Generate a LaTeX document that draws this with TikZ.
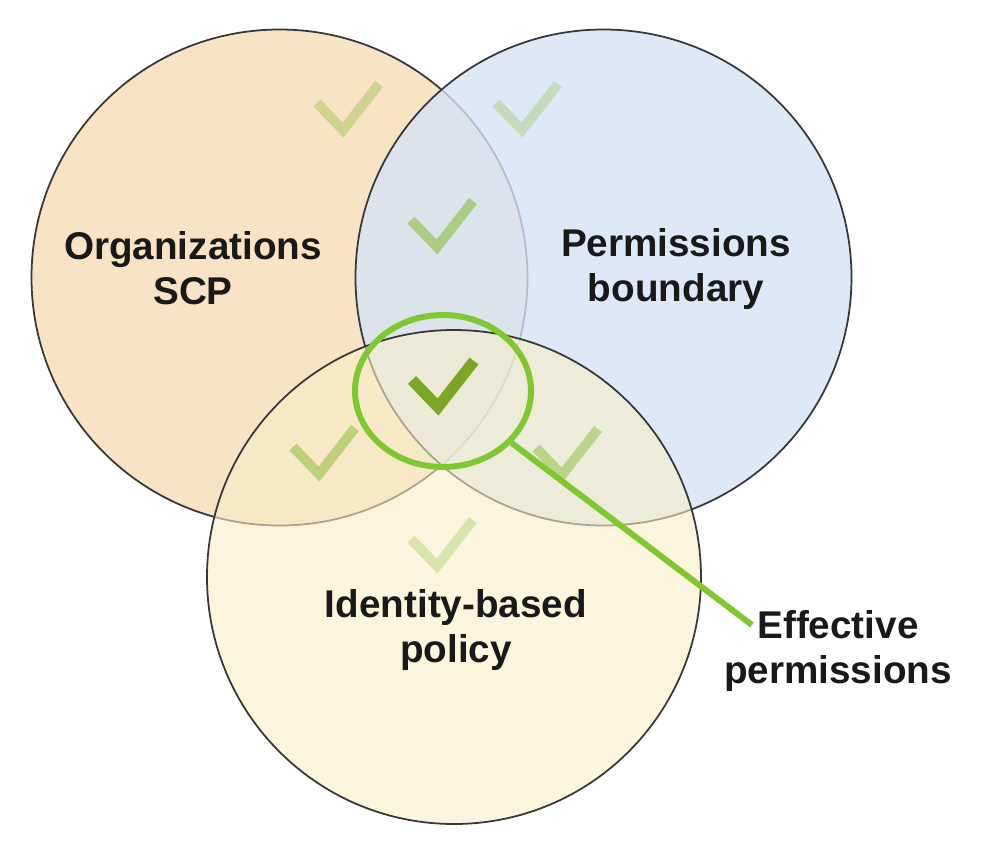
\documentclass[tikz,border=0pt]{standalone}
\usepackage{xcolor}
\usepackage{fontspec}
\setmainfont{Liberation Sans}
\usetikzlibrary{shapes.geometric}

\definecolor{scpfill}{RGB}{248,227,197}
\definecolor{pbfill}{RGB}{213,227,246}
\definecolor{idfill}{RGB}{248,238,200}
\definecolor{rim}{RGB}{55,55,55}
\definecolor{tickgreen}{RGB}{140,190,60}
\definecolor{tickdark}{RGB}{122,168,38}
\definecolor{effgreen}{RGB}{128,200,48}

\tikzset{
  policy/.style={draw=rim, line width=0.5pt},
  okstroke/.style={line width=2.8pt, line cap=butt, line join=miter},
  caption/.style={font=\fontsize{11}{12.8}\selectfont\bfseries, align=center, text=black!90},
}
% tick mark: bottom point, colour, opacity
\newcommand{\okmark}[3]{%
  \draw[okstroke, draw=#2, draw opacity=#3] (#1) ++(-0.26,0.27) -- ++(0.26,-0.27) -- ++(0.36,0.46);}

\begin{document}
\begin{tikzpicture}
  \useasboundingbox (0,0) rectangle (9.86,8.56);
  % the three policy circles
  \draw[policy, fill=scpfill] (2.795,5.785) circle (2.48);
  \draw[policy, fill=pbfill, fill opacity=0.78] (6.035,5.785) circle (2.48);
  \draw[policy, fill=idfill, fill opacity=0.6] (4.54,2.79) circle (2.47);

  \node[caption] (scp) at (1.93,5.88) {Organizations\\SCP};
  \node[caption] (pb) at (6.76,5.87) {Permissions\\boundary};
  \node[caption] (idp) at (4.56,2.26) {Identity-based\\policy};

  % ticks
  \okmark{3.43,7.26}{tickgreen}{0.4}
  \okmark{5.22,7.26}{tickgreen}{0.3}
  \okmark{4.37,6.09}{tickgreen}{0.6}
  \okmark{5.62,3.81}{tickgreen}{0.5}
  \okmark{3.19,3.82}{tickgreen}{0.55}
  \okmark{4.37,2.90}{tickgreen}{0.3}
  \draw[okstroke, line width=3.2pt, draw=tickdark] (4.38,4.49) ++(-0.26,0.27) -- ++(0.26,-0.27) -- ++(0.36,0.46);

  % effective permissions
  \node[ellipse, draw=effgreen, line width=1.7pt, minimum width=1.76cm,
        minimum height=1.52cm, inner sep=0pt] (eff) at (4.43,4.65) {};
  \node[caption] (effl) at (8.38,2.05) {Effective\\permissions};
  \coordinate (pin) at (7.52,2.31);
  \draw[effgreen, line width=1.7pt] (eff) -- (pin);
\end{tikzpicture}
\end{document}
